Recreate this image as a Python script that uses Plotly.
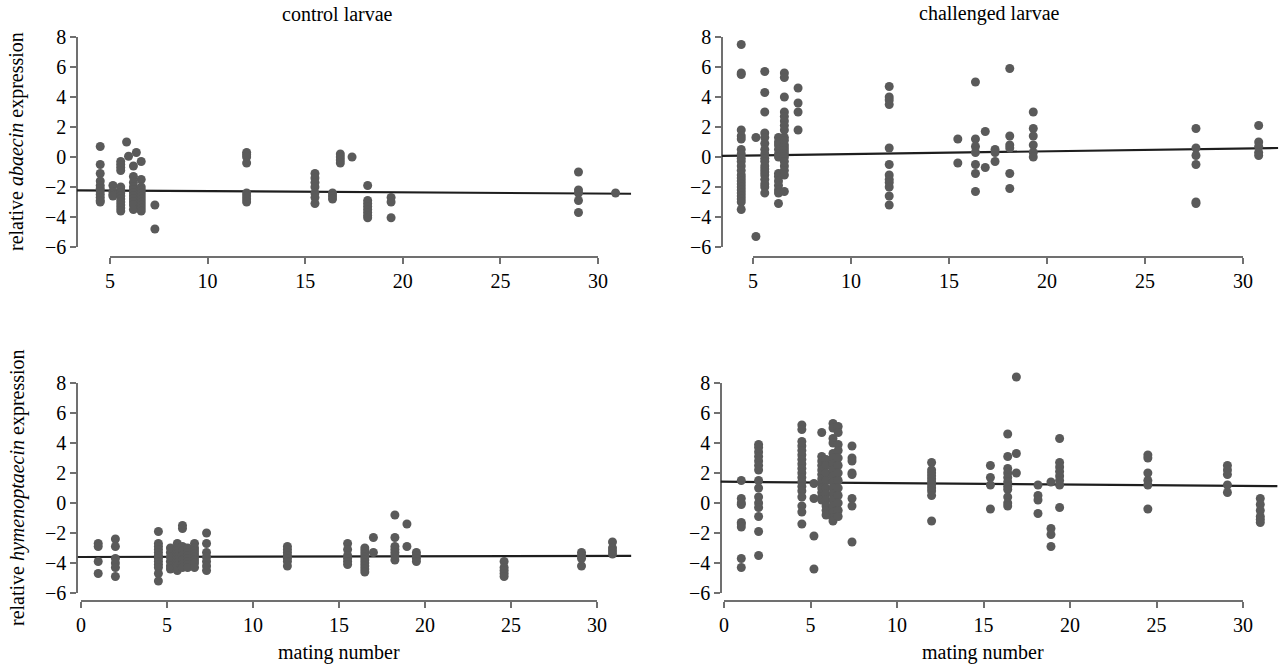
import plotly.graph_objects as go

# ---------------- data ----------------
# control larvae, abaecin
ctrl_aba_mating = [4.5, 5.15, 5.55, 5.85, 5.95, 6.2, 6.35, 6.6, 7.3, 12.0, 15.5, 16.4, 16.8, 17.4, 18.2, 19.4, 29.0, 30.9]
ctrl_aba_values = [
    [0.7, -0.5, -1.1, -1.6, -1.9, -2.1, -2.3, -2.5, -2.7, -2.9, -3.0],
    [-1.9, -2.3, -2.5, -2.6],
    [-0.3, -0.5, -0.7, -0.9, -2.0, -2.2, -2.4, -2.6, -2.8, -3.0, -3.2, -3.4, -3.6],
    [1.0],
    [0.05],
    [-0.6, -1.3, -1.7, -2.0, -2.2, -2.4, -2.6, -2.8, -3.0, -3.2, -3.5],
    [0.3],
    [-0.3, -1.5, -2.0, -2.2, -2.4, -2.6, -2.8, -3.0, -3.2, -3.4, -3.6],
    [-3.2, -4.8],
    [0.3, 0.15, 0.0, -0.4, -2.4, -2.6, -2.8, -3.0],
    [-1.1, -1.4, -1.7, -2.0, -2.4, -2.7, -3.1],
    [-2.4, -2.6, -2.8],
    [0.2, 0.0, -0.2, -0.4],
    [0.0],
    [-1.9, -2.9, -3.1, -3.3, -3.5, -3.7, -3.9, -4.05],
    [-2.7, -3.0, -4.05],
    [-1.0, -2.2, -2.4, -2.9, -3.7],
    [-2.4],
]
ctrl_aba_fit_x = [3.3, 31.7]
ctrl_aba_fit_y = [-2.22, -2.45]

# challenged larvae, abaecin
chal_aba_mating = [4.4, 5.15, 5.6, 6.3, 6.6, 7.3, 11.95, 15.45, 16.35, 16.85, 17.35, 18.1, 19.3, 27.6, 30.8]
chal_aba_values = [
    [7.5, 5.6, 5.5, 1.8, 1.4, 1.2, 0.5, 0.2, -0.1, -0.3, -0.6, -0.9, -1.2, -1.4, -1.6, -1.8, -2.0, -2.2, -2.4, -2.6, -2.8, -3.0, -3.5],
    [1.3, -5.3],
    [5.7, 4.3, 3.0, 1.6, 1.3, 0.9, 0.5, 0.2, -0.1, -0.3, -0.6, -0.8, -1.0, -1.2, -1.5, -1.8, -2.0, -2.4],
    [1.3, 1.0, 0.8, 0.5, 0.2, 0.0, -1.1, -1.3, -1.6, -1.9, -2.2, -2.4, -3.1],
    [5.6, 5.3, 4.0, 3.0, 2.7, 2.4, 2.1, 1.8, 1.3, 1.1, 0.8, 0.6, 0.4, 0.2, 0.0, -0.3, -0.6, -0.9, -1.2, -2.3],
    [4.6, 3.6, 3.0, 1.8],
    [4.7, 4.0, 3.8, 3.5, 0.6, -0.5, -1.2, -1.5, -1.7, -2.0, -2.6, -3.2],
    [1.2, -0.4],
    [5.0, 1.2, 0.7, 0.3, -0.5, -1.1, -2.3],
    [1.7, -0.7],
    [0.5, 0.3, -0.3],
    [5.9, 1.4, 0.8, 0.6, -1.1, -2.1],
    [3.0, 1.9, 1.4, 0.8, 0.3, 0.0],
    [1.9, 0.6, 0.1, -0.5, -3.0, -3.1],
    [2.1, 1.0, 0.7, 0.3, 0.1],
]
chal_aba_fit_x = [3.4, 31.8]
chal_aba_fit_y = [0.07, 0.6]

# control larvae, hymenoptaecin
ctrl_hym_mating = [1.0, 2.0, 4.5, 5.2, 5.6, 5.9, 6.2, 6.6, 7.3, 12.0, 15.5, 16.5, 17.0, 18.25, 18.95, 19.5, 24.6, 29.1, 30.9]
ctrl_hym_values = [
    [-2.7, -2.9, -3.9, -4.7],
    [-2.4, -2.9, -3.7, -4.0, -4.3, -4.9],
    [-1.9, -2.7, -2.9, -3.1, -3.3, -3.5, -3.7, -3.9, -4.1, -4.3, -4.7, -5.2],
    [-3.0, -3.3, -3.6, -3.9, -4.2, -4.4],
    [-2.7, -3.0, -3.2, -3.4, -3.6, -3.8, -4.0, -4.2, -4.5],
    [-1.5, -1.7, -2.9, -3.2, -3.5, -3.8, -4.1, -4.3],
    [-3.0, -3.3, -3.5, -3.7, -3.9, -4.1, -4.3],
    [-2.7, -3.0, -3.2, -3.4, -3.6, -3.8, -4.0, -4.3],
    [-2.0, -2.7, -3.3, -3.6, -3.9, -4.2, -4.5],
    [-2.9, -3.1, -3.3, -3.5, -3.7, -3.9, -4.2],
    [-2.7, -3.1, -3.5, -3.7, -3.9, -4.1],
    [-3.0, -3.2, -3.4, -3.6, -3.8, -4.0, -4.2, -4.4, -4.6],
    [-2.3, -3.3],
    [-0.8, -2.3, -2.9, -3.1, -3.3, -3.5, -3.8],
    [-1.4, -2.9],
    [-3.3, -3.5, -3.7, -3.9],
    [-3.9, -4.3, -4.5, -4.7, -4.9],
    [-3.3, -3.5, -3.7, -4.2],
    [-2.6, -3.0, -3.2, -3.4],
]
ctrl_hym_fit_x = [-0.2, 32.0]
ctrl_hym_fit_y = [-3.6, -3.52]

# challenged larvae, hymenoptaecin
chal_hym_mating = [1.0, 2.0, 4.5, 5.2, 5.65, 5.9, 6.3, 6.6, 7.4, 12.0, 15.4, 16.4, 16.9, 18.15, 18.9, 19.4, 24.5, 29.1, 31.0]
chal_hym_values = [
    [1.5, 0.3, 0.0, -0.1, -1.3, -1.4, -1.6, -3.7, -4.3],
    [3.9, 3.7, 3.4, 3.1, 2.8, 2.5, 2.2, 1.5, 1.0, 0.4, 0.0, -0.3, -0.9, -1.9, -3.5],
    [5.2, 4.9, 4.1, 3.8, 3.5, 3.2, 2.9, 2.6, 2.3, 2.0, 1.7, 1.4, 1.1, 0.8, 0.4, -0.2, -0.6, -1.4],
    [1.3, 0.3, -2.2, -4.4],
    [4.7, 3.1, 2.8, 2.5, 2.2, 1.9, 1.6, 1.3, 1.0, 0.7, 0.4, 0.2],
    [2.9, 2.5, 2.0, 1.5, 1.0, 0.6, 0.2, -0.2, -0.5, -0.8],
    [5.3, 5.0, 4.3, 4.0, 3.3, 3.0, 2.6, 2.2, 1.8, 1.4, 1.0, 0.6, 0.2, -0.2, -0.6, -1.0, -1.2],
    [5.1, 4.7, 3.9, 3.5, 3.0, 2.5, 2.0, 1.5, 1.0, 0.5, 0.0, -0.5, -0.9],
    [3.8, 3.0, 2.8, 2.0, 1.9, 0.3, -0.2, -2.6],
    [2.7, 2.2, 2.0, 1.8, 1.6, 1.4, 1.2, 1.0, 0.8, 0.5, -1.2],
    [2.5, 1.7, 1.2, -0.4],
    [4.6, 3.1, 2.3, 2.0, 1.7, 1.4, 1.1, 0.9, 0.4, 0.0, -0.2],
    [8.4, 3.3, 2.0],
    [1.2, 0.5, 0.2, -0.7],
    [1.4, -1.7, -2.1, -2.9],
    [4.3, 2.7, 2.4, 2.1, 1.8, 1.5, 1.2, -0.3],
    [3.2, 3.0, 2.0, 1.5, 1.2, -0.4],
    [2.5, 2.2, 1.9, 1.2, 0.7],
    [0.3, -0.1, -0.5, -0.9, -1.1, -1.3],
]
chal_hym_fit_x = [-0.2, 32.0]
chal_hym_fit_y = [1.42, 1.12]

y_ticks = [-6, -4, -2, 0, 2, 4, 6, 8]
y_axis_range = [-6, 8]
y_data_range = [-6.8, 8.9]
top_x_ticks = [5, 10, 15, 20, 25, 30]
bottom_x_ticks = [0, 5, 10, 15, 20, 25, 30]
col_titles = ["control larvae", "challenged larvae"]
row_titles = ["relative <i>abaecin</i> expression", "relative <i>hymenoptaecin</i> expression"]
x_title = "mating number"

# ---------------- layout geometry (pixels) ----------------
W, H = 1282, 666
FONT = "Liberation Serif, Times New Roman, serif"
FS = 20
AXCOL = "#707070"
PTCOL = "#5a5a5a"

panels = [
    dict(m=ctrl_aba_mating, v=ctrl_aba_values, fx=ctrl_aba_fit_x, fy=ctrl_aba_fit_y, ticks=top_x_ticks,
         a=(5, 110), b=(30, 598), yx=77, yt=37, yb=247, xy=257),
    dict(m=chal_aba_mating, v=chal_aba_values, fx=chal_aba_fit_x, fy=chal_aba_fit_y, ticks=top_x_ticks,
         a=(5, 753), b=(30, 1243), yx=722, yt=37, yb=247, xy=257),
    dict(m=ctrl_hym_mating, v=ctrl_hym_values, fx=ctrl_hym_fit_x, fy=ctrl_hym_fit_y, ticks=bottom_x_ticks,
         a=(0, 81), b=(30, 597), yx=77, yt=383, yb=593, xy=601),
    dict(m=chal_hym_mating, v=chal_hym_values, fx=chal_hym_fit_x, fy=chal_hym_fit_y, ticks=bottom_x_ticks,
         a=(0, 724), b=(30, 1243), yx=721, yt=383, yb=593, xy=601),
]

fig = go.Figure()
layout = dict(
    width=W, height=H, margin=dict(l=0, r=0, t=0, b=0, pad=0, autoexpand=False),
    paper_bgcolor="white", plot_bgcolor="rgba(0,0,0,0)", showlegend=False,
    font=dict(family=FONT, size=FS, color="black"),
)

for i, p in enumerate(panels):
    k = i + 1
    (v0, p0), (v1, p1) = p["a"], p["b"]
    xs_scale = (p1 - p0) / (v1 - v0)
    px = lambda v: p0 + (v - v0) * xs_scale
    ys_scale = (p["yb"] - p["yt"]) / (y_axis_range[1] - y_axis_range[0])
    py = lambda v: p["yb"] - (v - y_axis_range[0]) * ys_scale

    xs, ys = [], []
    for m, vals in zip(p["m"], p["v"]):
        for val in vals:
            xs.append(m)
            ys.append(val)

    # visible, detached axes (R style): an invisible helper trace makes Plotly draw them
    fig.add_trace(go.Scatter(x=[v0, v1], y=y_axis_range, mode="markers", xaxis=f"x{k}", yaxis=f"y{k}",
                             marker=dict(size=1, opacity=0), hoverinfo="skip"))
    layout[f"xaxis{k}"] = dict(
        domain=[p0 / W, p1 / W], range=[v0, v1], anchor="free", position=1 - p["xy"] / H,
        tickvals=p["ticks"], ticks="outside", ticklen=6, tickwidth=1.5, tickcolor=AXCOL,
        showline=True, linecolor=AXCOL, linewidth=1.5, showgrid=False, zeroline=False,
        automargin=False, tickfont=dict(family=FONT, size=FS, color="black"),
    )
    layout[f"yaxis{k}"] = dict(
        domain=[1 - p["yb"] / H, 1 - p["yt"] / H], range=y_axis_range, anchor="free",
        position=p["yx"] / W, tickvals=y_ticks, ticks="outside", ticklen=6, tickwidth=1.5,
        tickcolor=AXCOL, showline=True, linecolor=AXCOL, linewidth=1.5, showgrid=False,
        zeroline=False, automargin=False, tickfont=dict(family=FONT, size=FS, color="black"),
    )

    # data live on hidden axes spanning the whole plotting region
    xh, yh = f"x{k + 4}", f"y{k + 4}"
    fig.add_trace(go.Scatter(x=p["fx"], y=p["fy"], mode="lines", xaxis=xh, yaxis=yh,
                             line=dict(color="#1e1e1e", width=2.2), hoverinfo="skip"))
    fig.add_trace(go.Scatter(x=xs, y=ys, mode="markers", xaxis=xh, yaxis=yh,
                             marker=dict(size=9, color=PTCOL, line=dict(width=0)),
                             hoverinfo="skip"))
    layout[f"xaxis{k + 4}"] = dict(
        domain=[px(p["fx"][0]) / W, px(p["fx"][1]) / W], range=p["fx"], anchor=yh,
        visible=False, showgrid=False, zeroline=False,
    )
    layout[f"yaxis{k + 4}"] = dict(
        domain=[1 - py(y_data_range[0]) / H, 1 - py(y_data_range[1]) / H], range=y_data_range,
        anchor=xh, visible=False, showgrid=False, zeroline=False,
    )

annotations = [
    dict(text=col_titles[0], x=338 / W, y=1 - 14 / H),
    dict(text=col_titles[1], x=990 / W, y=1 - 14 / H),
    dict(text=row_titles[0], x=17 / W, y=1 - 142 / H, textangle=-90),
    dict(text=row_titles[1], x=17 / W, y=1 - 488 / H, textangle=-90),
    dict(text=x_title, x=339 / W, y=1 - 652 / H),
    dict(text=x_title, x=983 / W, y=1 - 652 / H),
]
for a in annotations:
    a.update(xref="paper", yref="paper", showarrow=False, xanchor="center", yanchor="middle",
             font=dict(family=FONT, size=FS, color="black"))
layout["annotations"] = annotations

fig.update_layout(**layout)
fig.write_html("out.html", config={"displayModeBar": False},
               post_script="document.body.style.margin='0px';")
